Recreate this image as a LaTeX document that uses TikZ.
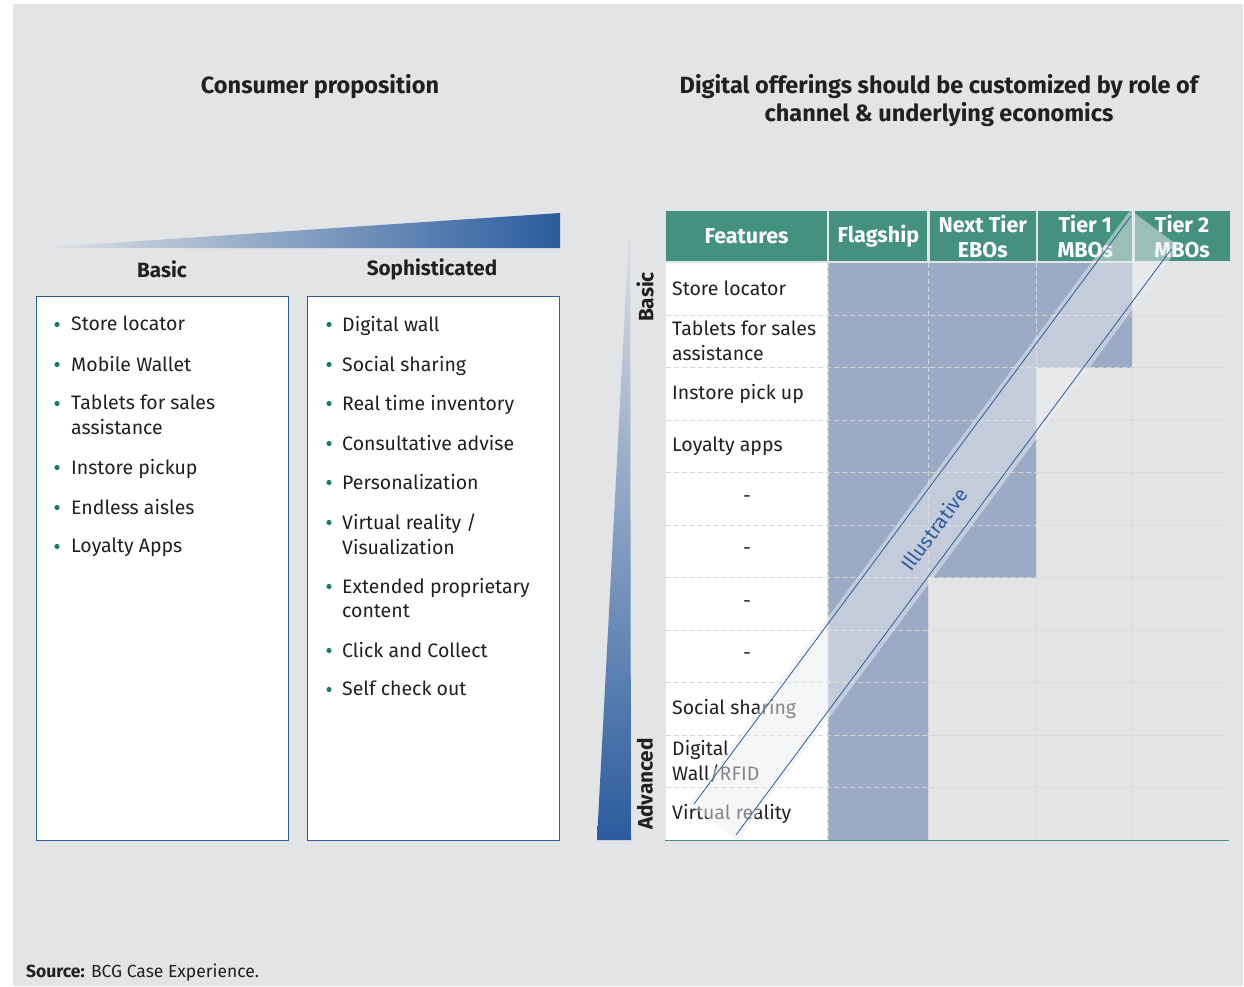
\documentclass[tikz,border=0pt]{standalone}
\usepackage{fontspec}
\setmainfont{Fira Sans}
\usetikzlibrary{positioning}

\definecolor{bggray}{HTML}{E3E4E6}
\definecolor{hdrgreen}{HTML}{45917F}
\definecolor{cellblue}{HTML}{9BABC6}
\definecolor{deepblue}{HTML}{2A5C9E}
\definecolor{dotgreen}{HTML}{1F7D5C}
\definecolor{ink}{HTML}{231F20}
\definecolor{gridgray}{HTML}{D3D5D9}
\definecolor{bandfill}{HTML}{EDEEF0}

\tikzset{
  title/.style={text=ink, font=\bfseries\fontsize{23.5}{28}\selectfont, align=center},
  colhead/.style={text=ink, font=\bfseries\fontsize{20.7}{24}\selectfont},
  listbox/.style={draw=deepblue, fill=white, line width=0.8pt, minimum width=252pt, minimum height=544pt, inner sep=0pt},
  item/.style={anchor=north west, align=left, text=ink, inner sep=0pt, font=\fontsize{19.5}{24.5}\selectfont},
  hdr/.style={fill=hdrgreen, text=white, align=center, inner sep=0pt, minimum height=50pt, font=\bfseries\fontsize{21.5}{25}\selectfont},
  rowlbl/.style={anchor=west, align=left, text=ink, inner sep=0pt, font=\fontsize{19.5}{25}\selectfont},
  dashlbl/.style={text=ink, inner sep=0pt, font=\fontsize{19.5}{25}\selectfont},
  sidelbl/.style={rotate=90, text=ink, font=\bfseries\fontsize{20.8}{24}\selectfont},
  gridline/.style={gridgray, dashed, dash pattern=on 5pt off 3pt, line width=0.8pt},
  bandline/.style={deepblue, line width=0.8pt},
}

\begin{document}
\begin{tikzpicture}[x=1pt,y=-1pt]
\useasboundingbox (0,0) rectangle (1244,986);
\fill[bggray] (13,4) rectangle (1243,986);

% titles
\node[title] (tleft) at (320,87) {Consumer proposition};
\node[title] (tright) at (939,101) {Digital offerings should be customized by role of\\channel \& underlying economics};

% wedges
\coordinate (hw1) at (35,248);
\coordinate (hw2) at (560,213);
\coordinate (hw3) at (560,248);
\shade[left color=bggray, right color=deepblue] (hw1) -- (hw2) -- (hw3) -- cycle;
\coordinate (vw1) at (630,213);
\coordinate (vw2) at (631,840);
\coordinate (vw3) at (597,840);
\shade[top color=bggray, bottom color=deepblue] (vw1) -- (vw2) -- (vw3) -- cycle;

% left lists
\node[colhead] (hbasic) at (162,269) {Basic};
\node[colhead] (hsoph) at (432,269) {Sophisticated};
\node[listbox] (boxbasic) at (162,568) {};
\node[listbox] (boxsoph) at (433,568) {};

\node[item] (b1) at (71,316) {Store locator};
\node[item] (b2) at (71,356) {Mobile Wallet};
\node[item] (b3) at (71,395) {Tablets for sales\\assistance};
\node[item] (b4) at (71,459) {Instore pickup};
\node[item] (b5) at (71,499) {Endless aisles};
\node[item] (b6) at (71,538) {Loyalty Apps};
\foreach \y in {323,363,402,466,506,545}
  \fill[dotgreen] (57,\y+1.5) circle (2.6pt);

\node[item] (s1) at (342,316) {Digital wall};
\node[item] (s2) at (342,356) {Social sharing};
\node[item] (s3) at (342,395) {Real time inventory};
\node[item] (s4) at (342,435) {Consultative advise};
\node[item] (s5) at (342,474) {Personalization};
\node[item] (s6) at (342,514) {Virtual reality /\\Visualization};
\node[item] (s7) at (342,578) {Extended proprietary\\content};
\node[item] (s8) at (342,642) {Click and Collect};
\node[item] (s9) at (342,681) {Self check out};
\foreach \y in {323,363,402,442,481,521,585,649,688}
  \fill[dotgreen] (329,\y+1.5) circle (2.6pt);

% table cells
\fill[white] (666,262.5) rectangle (827,840);
\fill[cellblue] (828,262.5) rectangle (928,840);
\fill[cellblue] (928,262.5) rectangle (1036,577.5);
\fill[cellblue] (1036,262.5) rectangle (1132,367.5);
\foreach \r in {1,...,10}
  \draw[gridline] (666,{262.5+52.5*\r}) -- (1228,{262.5+52.5*\r});
\foreach \x in {828,928,1036,1132}
  \draw[gridline] (\x,262.5) -- (\x,840);

% header
\node[hdr, minimum width=161pt] (hfeat) at (746.5,236) {Features};
\node[hdr, minimum width=98pt, right=2pt of hfeat] (hflag) {Flagship};
\node[hdr, minimum width=106pt, right=2pt of hflag] (hnext) {Next Tier\\EBOs};
\node[hdr, minimum width=94pt, right=2pt of hnext] (htier1) {Tier 1\\MBOs};
\node[hdr, minimum width=95pt, right=2pt of htier1] (htier2) {Tier 2\\MBOs};

% rows
\node[rowlbl] (r1) at (672,288.75) {Store locator};
\node[rowlbl] (r2) at (672,341.25) {Tablets for sales\\assistance};
\node[rowlbl] (r3) at (672,393.75) {Instore pick up};
\node[rowlbl] (r4) at (672,446.25) {Loyalty apps};
\node[dashlbl] (r5) at (747,498.75) {-};
\node[dashlbl] (r6) at (747,551.25) {-};
\node[dashlbl] (r7) at (747,603.75) {-};
\node[dashlbl] (r8) at (747,656.25) {-};
\node[rowlbl] (r9) at (672,708.75) {Social sharing};
\node[rowlbl] (r10) at (672,761.25) {Digital\\Wall/RFID};
\node[rowlbl] (r11) at (672,813.75) {Virtual reality};

% illustrative band
\coordinate (bd1) at (689,804);
\coordinate (bd2) at (738,840.4);
\coordinate (bd3) at (1179.4,246.5);
\coordinate (bd4) at (1130.4,210.1);
\fill[bandfill, fill opacity=0.5] (bd1) -- (bd2) -- (bd3) -- (bd4) -- cycle;
\coordinate (l1a) at (694,804);
\coordinate (l1b) at (1131,216);
\coordinate (l2a) at (736,835);
\coordinate (l2b) at (1171.3,249.2);
\draw[bandline] (l1a) -- (l1b);
\draw[bandline] (l2a) -- (l2b);
\node[text=deepblue, rotate=53.4, inner sep=0pt, font=\fontsize{20}{24}\selectfont] (illus) at (934,529) {Illustrative};

% side labels
\node[sidelbl] (sbasic) at (645,297) {Basic};
\node[sidelbl] (sadv) at (645,784) {Advanced};
\coordinate (gl1) at (665,840);
\coordinate (gl2) at (1229,840);
\draw[hdrgreen, line width=1pt] (gl1) -- (gl2);

% source
\node[anchor=west, inner sep=0pt, text=ink, font=\fontsize{17.5}{20}\selectfont] (src) at (26,973) {\textbf{Source:} BCG Case Experience.};
\end{tikzpicture}
\end{document}
